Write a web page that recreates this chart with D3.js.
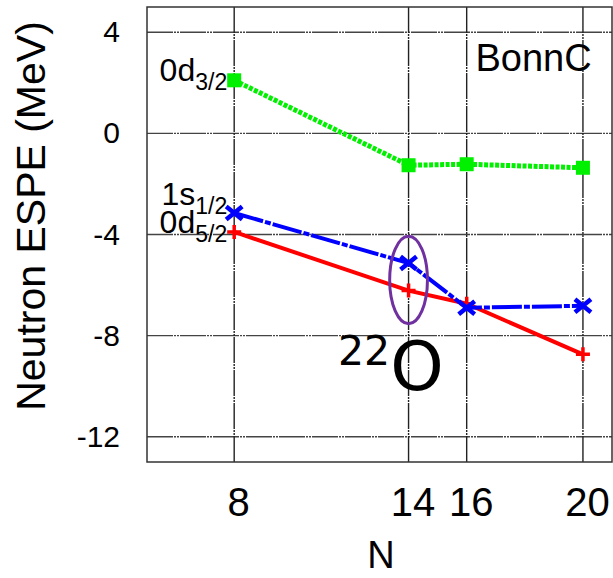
<!DOCTYPE html>
<html>
<head>
<meta charset="utf-8">
<script src="https://cdn.jsdelivr.net/npm/d3@7"></script>
<style>
  body { margin: 0; background: #fff; }
  text { font-family: "Liberation Sans", Arial, sans-serif; fill: #000; }
</style>
</head>
<body>
<div class="chart"></div>
<script>
// Data
var neutrons = [8, 14, 16, 20];
var d32 = [2.1, -1.26, -1.22, -1.36];
var s12 = [-3.15, -5.13, -6.9, -6.82];
var d52 = [-3.9, -6.22, -6.74, -8.74];
var yTicks = [4, 0, -4, -8, -12];

var svgWidth = 613;
var svgHeight = 578;

var chartMargin = { top: 7, right: 1, bottom: 116, left: 147 };
var width = svgWidth - chartMargin.left - chartMargin.right;
var height = svgHeight - chartMargin.top - chartMargin.bottom;

var svg = d3.select(".chart")
    .append("svg")
    .attr("width", svgWidth)
    .attr("height", svgHeight);

var chart = svg.append("g")
    .attr("transform", `translate(${chartMargin.left}, ${chartMargin.top})`);

var xScale = d3.scaleLinear().domain([5, 21]).range([0, width]);
var yScale = d3.scaleLinear().domain([-13, 5]).range([height, 0]);

// grid lines
chart.selectAll(".hgrid")
    .data(yTicks)
    .enter()
    .append("line")
    .attr("x1", 0).attr("x2", width)
    .attr("y1", d => yScale(d)).attr("y2", d => yScale(d))
    .attr("stroke", "#444")
    .attr("stroke-width", 1.4)
    .attr("stroke-dasharray", "26,1,2,1,2,1");

chart.selectAll(".vgrid")
    .data(neutrons)
    .enter()
    .append("line")
    .attr("x1", d => xScale(d)).attr("x2", d => xScale(d))
    .attr("y1", 0).attr("y2", height)
    .attr("stroke", "#222")
    .attr("stroke-width", 1.4)
    .attr("stroke-dasharray", "26,1,2,1,2,1");

// frame
chart.append("rect")
    .attr("x", 0).attr("y", 0)
    .attr("width", width).attr("height", height)
    .attr("fill", "none")
    .attr("stroke", "#333")
    .attr("stroke-width", 1.5);

// axes (labels only), plain hyphen for negatives
var bottomAxis = d3.axisBottom(xScale).tickValues(neutrons).tickSize(0).tickPadding(26);
var leftAxis = d3.axisLeft(yScale).tickValues(yTicks).tickSize(0).tickPadding(27)
    .tickFormat(d => String(d));

var xAxisG = chart.append("g")
    .attr("transform", `translate(0, ${height})`)
    .call(bottomAxis);
xAxisG.select(".domain").remove();
xAxisG.selectAll("text")
    .style("font-size", "40px")
    .attr("dx", "4px");

var yAxisG = chart.append("g").call(leftAxis);
yAxisG.select(".domain").remove();
yAxisG.selectAll("text").style("font-size", "30px");

// lines
var line = d3.line()
    .x((d, i) => xScale(neutrons[i]))
    .y(d => yScale(d));

chart.append("path")
    .datum(d52)
    .attr("d", line)
    .attr("fill", "none")
    .attr("stroke", "#ff0000")
    .attr("stroke-width", 4);

chart.append("path")
    .datum(s12)
    .attr("d", line)
    .attr("fill", "none")
    .attr("stroke", "#0000ff")
    .attr("stroke-width", 4)
    .attr("stroke-dasharray", "30,2,6,2");

chart.append("path")
    .datum(d32)
    .attr("d", line)
    .attr("fill", "none")
    .attr("stroke", "#00f000")
    .attr("stroke-width", 5)
    .attr("stroke-dasharray", "4,1.5");

// markers
chart.selectAll(".plus")
    .data(d52)
    .enter()
    .append("path")
    .attr("transform", (d, i) => `translate(${xScale(neutrons[i])}, ${yScale(d)})`)
    .attr("d", "M-7,0H7M0,-7V7")
    .attr("stroke", "#ff0000")
    .attr("stroke-width", 3.5);

chart.selectAll(".cross")
    .data(s12)
    .enter()
    .append("path")
    .attr("transform", (d, i) => `translate(${xScale(neutrons[i])}, ${yScale(d)})`)
    .attr("d", "M-8,-6.5L8,6.5M-8,6.5L8,-6.5")
    .attr("stroke", "#0000ff")
    .attr("stroke-width", 4.5);

chart.selectAll(".square")
    .data(d32)
    .enter()
    .append("rect")
    .attr("x", (d, i) => xScale(neutrons[i]) - 7)
    .attr("y", d => yScale(d) - 7)
    .attr("width", 14).attr("height", 14)
    .attr("fill", "#00f000");

// level labels
function levelLabel(main, sub, yVal, dy) {
    var t = chart.append("text")
        .attr("x", xScale(8) - 7)
        .attr("y", yScale(yVal) + dy)
        .attr("text-anchor", "end")
        .style("font-size", "32px");
    t.append("tspan").text(main);
    t.append("tspan").attr("dy", 9).style("font-size", "23px").text(sub);
}
levelLabel("0d", "3/2", d32[0], 1);
levelLabel("1s", "1/2", s12[0], -8);
levelLabel("0d", "5/2", d52[0], 1);

// interaction tag
chart.append("text")
    .attr("x", xScale(20.3))
    .attr("y", 64)
    .attr("text-anchor", "end")
    .style("font-size", "38px")
    .text("BonnC");

// ellipse around N=14
chart.append("ellipse")
    .attr("cx", xScale(14))
    .attr("cy", yScale(-5.8))
    .attr("rx", xScale(14.65) - xScale(14))
    .attr("ry", yScale(-5.8) - yScale(-4.07))
    .attr("fill", "none")
    .attr("stroke", "#7030a0")
    .attr("stroke-width", 3);

// 22O label
var oText = chart.append("text")
    .attr("x", 191)
    .attr("y", 358)
    .style("font-family", "'DejaVu Sans', sans-serif");
oText.append("tspan").style("font-size", "41px").text("22");
oText.append("tspan").attr("dy", 25).style("font-size", "68px").text("O");

// axis titles
svg.append("text")
    .attr("transform", "rotate(-90)")
    .attr("x", -216)
    .attr("y", 45)
    .attr("text-anchor", "middle")
    .style("font-size", "41px")
    .text("Neutron ESPE (MeV)");

svg.append("text")
    .attr("x", 381)
    .attr("y", 568)
    .attr("text-anchor", "middle")
    .style("font-size", "38px")
    .text("N");
</script>
</body>
</html>
